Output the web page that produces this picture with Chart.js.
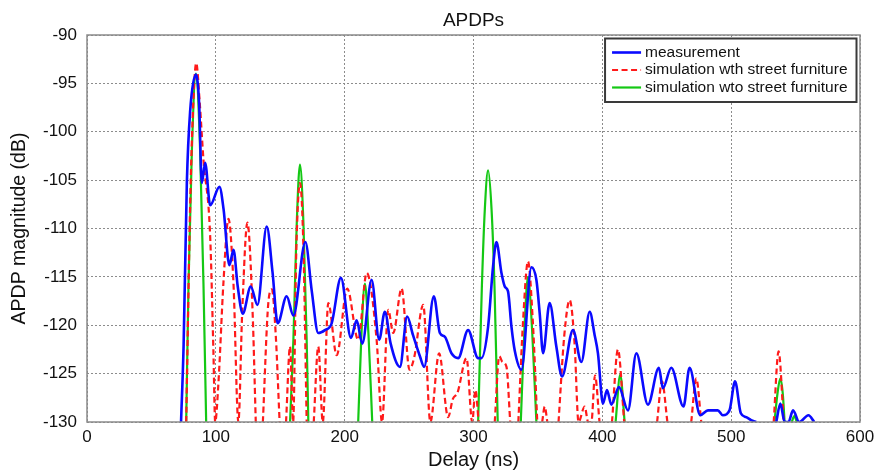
<!DOCTYPE html>
<html>
<head>
<meta charset="utf-8">
<script src="https://cdn.jsdelivr.net/npm/chart.js@4.4.0/dist/chart.umd.min.js"></script>
<style>
  body { margin: 0; background: #fff; }
  canvas { display: block; }
</style>
</head>
<body>
<canvas id="apdp" width="874" height="470"></canvas>
<script>
// axis ticks
const delayTicks = [0, 100, 200, 300, 400, 500, 600];
const dbTicks = [-90, -95, -100, -105, -110, -115, -120, -125, -130];

// measurement (blue)
const measDelay = [
  73, 75, 77.5, 80, 84.5, 87, 89.1, 91.7, 95.6, 102.8,
  106, 110.5, 113.7, 117, 120.9, 127.1, 132.3, 139.5, 144, 148,
  155, 160.2, 169.5, 174.4, 179.5, 184.7, 189.9, 197.1, 204.9, 209.3,
  213.7, 220.9, 226.8, 231.2, 235.7, 242.9, 248.5, 253, 258.4, 261.7,
  269.2, 273.9, 277.8, 282.9, 288.1, 295.8, 303.6, 306.2, 311.3, 315.2,
  317.8, 321.7, 324.3, 326.8, 329.5, 332, 337.2, 345, 348.8, 351.4,
  354, 359.1, 364.3, 368.7, 377.2, 383.7, 390.2, 394, 396.6, 400.5,
  403.6, 407, 412.9, 419.9, 426.4, 435.4, 443.9, 447, 453.5, 463,
  467.7, 476, 482, 489.6, 493.5, 498.7, 503, 507.5, 511.6, 515.5,
  519.4, 527, 535, 538.2, 541.5, 544.5, 548, 552.8, 560, 564.5
];
const measDb = [
  -130, -122, -105.3, -98, -94.1, -97, -105.3, -103.2, -107.6, -105.7,
  -108, -113.8, -112.2, -116, -118.8, -116.0, -117.9, -109.8, -114.5, -119.8,
  -117.0, -119.0, -111.4, -116.4, -120.8, -120.5, -119.8, -115.1, -121.3, -119.5,
  -121.9, -115.3, -121.5, -118.6, -121.9, -124.3, -119.1, -121, -123.2, -124.3,
  -117.0, -120.8, -121.2, -122.9, -123.4, -120.5, -123.4, -123.4, -120.2, -113.9,
  -111.4, -114.6, -116.0, -116.5, -120.2, -122.6, -124.6, -114.0, -115.3, -118.8,
  -122.9, -117.7, -122.2, -125.3, -120.5, -123.8, -118.6, -121, -122.9, -128.1,
  -126.7, -128.2, -126.4, -128.8, -122.9, -128.2, -124.4, -126.5, -124.4, -128.4,
  -124.4, -129.3, -128.8, -128.8, -129.3, -128.8, -125.8, -129.1, -129.5, -129.8,
  -130, null, -130, -128.1, -130, -130, -128.8, -130, -129.3, -130
];

// simulation with street furniture (red dashed)
const withDelay = [
  77, 80, 82.5, 84.8, 87.5, 90.4, 95.6, 98.1, 99.5, 102,
  105.9, 109.8, 113.7, 117.5, 120.5, 124.5, 128.5, 131, 134, 136.5,
  140.8, 143.5, 146.5, 149.5, 152, 154.5, 157.6, 160, 162.5, 165.3,
  168, 170.5, 173, 176, 179.5, 183, 187.3, 193.8, 202, 210.5,
  217.1, 224.8, 229, 233.8, 237.7, 244.2, 250.3, 254, 261, 266.5,
  273.3, 280.3, 284, 287.5, 294.6, 299, 301.5, 304, 310, 316.5,
  320, 322.5, 325.6, 328.5, 331, 334.8, 338.5, 342.3, 346, 349.5,
  351.5, 353.3, 355.3, 357.3, 361, 366, 370.5, 374.7, 378.5, 381.5,
  386.3, 389, 391.5, 394.3, 397.8, 402, 407.5, 412.1, 417, 430,
  442.5, 446.3, 450.5, 460, 469, 472.9, 476.8, 505, 533, 536.8,
  540.8
];
const withDb = [
  -130, -108, -97, -92.9, -97, -102.9, -110.8, -122.6, -130, -126,
  -115.6, -109.0, -115.7, -130, -118.5, -109.4, -118.5, -130, null, -130,
  -117.6, -116.3, -121, -130, null, -130, -122.2, -130, -112, -105.3,
  -112, -130, null, -130, -122.2, -130, -117.7, -123.1, -116.2, -121.5,
  -114.6, -121.5, -130, -118.4, -120.8, -116.2, -124.6, -123.3, -117.9, -130,
  -122.9, -129.5, -127.6, -127, -123.4, -130, -126.7, -130, null, -130,
  -123.2, -123.8, -124.3, -130, null, -130, -119.5, -113.4, -119.5, -130,
  null, -130, -128.4, -130, null, -130, -121, -117.4, -122, -130,
  -128.4, -130, -130, -125.2, -130, null, -130, -122.5, -130, null,
  -130, -125.8, -130, null, -130, -125.5, -130, null, -130, -122.7,
  -130
];

// simulation without street furniture (green)
const withoutDelay = [
  77, 78.8, 81.4, 84.5, 87.8, 90.4, 92.5, 100, 157.6, 160.2,
  162.8, 165.3, 168, 170.5, 171.8, 190, 210.5, 213, 215.7, 218.5,
  221.4, 260, 303.6, 306.5, 308.8, 311.3, 314, 316.3, 318.8, 328,
  336.7, 339.5, 342.3, 345.5, 348.8, 380, 410.3, 413.9, 417.3, 480,
  533.6, 536, 538.2, 540, 541.5, 545, 547, 549, 551
];
const withoutDb = [
  -130, -115.7, -101.9, -94.0, -101.9, -115.7, -130, null, -130, -121.5,
  -109.5, -103.4, -109.5, -121.5, -130, null, -130, -121, -115.7, -121,
  -130, null, -130, -116, -108, -104.0, -108, -116, -130, null,
  -130, -120.5, -115.0, -120.5, -130, null, -130, -125.1, -130, null,
  -130, -127, -125.5, -127, -130, null, -130, -129.4, -130
];

const FONT = '"Liberation Sans", Arial, Helvetica, sans-serif';

function toPoints(xs, ys) {
  return xs.map((x, i) => ({ x: x, y: ys[i] }));
}

// box around the plot, like MATLAB "box on"
const frame = {
  id: 'frame',
  afterDatasetsDraw(chart) {
    const { ctx, chartArea: a } = chart;
    ctx.save();
    ctx.strokeStyle = '#8a8a8a';
    ctx.lineWidth = 1.5;
    ctx.strokeRect(a.left, a.top, a.right - a.left, a.bottom - a.top);
    ctx.restore();
  }
};

// legend drawn inside the plot, top right
const boxLegend = {
  id: 'boxLegend',
  afterDraw(chart) {
    const { ctx, chartArea: a } = chart;
    const sets = chart.data.datasets;
    ctx.save();
    ctx.font = '15.5px ' + FONT;
    const textW = Math.max(...sets.map(d => ctx.measureText(d.label).width));
    const sample = 29, rowH = 17.5;
    const w = 7 + sample + 4 + textW + 9;
    const h = sets.length * rowH + 11;
    const right = a.right - 3.5, top = a.top + 3.5;
    const left = right - w;

    ctx.fillStyle = '#fff';
    ctx.fillRect(left, top, w, h);
    ctx.strokeStyle = '#3a3a3a';
    ctx.lineWidth = 2;
    ctx.strokeRect(left, top, w, h);

    sets.forEach((d, i) => {
      const y = top + 14 + i * rowH;
      ctx.strokeStyle = d.borderColor;
      ctx.lineWidth = d.borderWidth;
      ctx.setLineDash(d.borderDash || []);
      ctx.beginPath();
      ctx.moveTo(left + 7, y);
      ctx.lineTo(left + 7 + sample, y);
      ctx.stroke();
      ctx.setLineDash([]);
      ctx.fillStyle = '#111';
      ctx.textBaseline = 'middle';
      ctx.fillText(d.label, left + 7 + sample + 4, y);
    });
    ctx.restore();
  }
};

new Chart(document.getElementById('apdp'), {
  type: 'line',
  data: {
    datasets: [{
      label: 'measurement',
      data: toPoints(measDelay, measDb),
      borderColor: '#0a0aff',
      borderWidth: 2.6,
      tension: 0.4,
      cubicInterpolationMode: 'monotone'
    }, {
      label: 'simulation wth street furniture',
      data: toPoints(withDelay, withDb),
      borderColor: '#ff1a1a',
      borderWidth: 2.2,
      borderDash: [6, 3.5],
      tension: 0.4,
      cubicInterpolationMode: 'monotone'
    }, {
      label: 'simulation wto street furniture',
      data: toPoints(withoutDelay, withoutDb),
      borderColor: '#14c814',
      borderWidth: 2.2,
      tension: 0.4,
      cubicInterpolationMode: 'monotone'
    }]
  },
  options: {
    responsive: false,
    animation: false,
    spanGaps: false,
    clip: 0,
    elements: { point: { radius: 0 } },
    layout: { padding: { left: 0, right: 14, top: 0, bottom: 0 } },
    scales: {
      x: {
        type: 'linear',
        min: 0,
        max: 600,
        afterBuildTicks(scale) { scale.ticks = delayTicks.map(v => ({ value: v })); },
        afterFit(scale) {
          scale.height = 48;
          scale.paddingLeft = 0;
          scale.paddingRight = 0;
        },
        ticks: { color: '#111', font: { family: FONT, size: 17 }, padding: 5, maxRotation: 0 },
        grid: { color: '#8c8c8c', lineWidth: 1, drawTicks: false },
        border: { display: false, dash: [2, 2] },
        title: { display: true, text: 'Delay (ns)', color: '#111', font: { family: FONT, size: 20, lineHeight: 1 }, padding: { top: 0, bottom: 0 } }
      },
      y: {
        type: 'linear',
        min: -130,
        max: -90,
        afterBuildTicks(scale) { scale.ticks = dbTicks.map(v => ({ value: v })); },
        afterFit(scale) { scale.width = 87; },
        ticks: { color: '#111', font: { family: FONT, size: 17 }, padding: 10 },
        grid: { color: '#8c8c8c', lineWidth: 1, drawTicks: false },
        border: { display: false, dash: [2, 2] },
        title: { display: true, text: 'APDP magnitude (dB)', color: '#111', font: { family: FONT, size: 19.5, lineHeight: 1 }, padding: { top: 10, bottom: 0 } }
      }
    },
    plugins: {
      legend: { display: false },
      tooltip: { enabled: false },
      title: {
        display: true,
        fullSize: false,
        text: 'APDPs',
        color: '#111',
        font: { family: FONT, size: 19, weight: 'normal', lineHeight: 1 },
        padding: { top: 11, bottom: 5 }
      }
    }
  },
  plugins: [frame, boxLegend]
});
</script>
</body>
</html>
